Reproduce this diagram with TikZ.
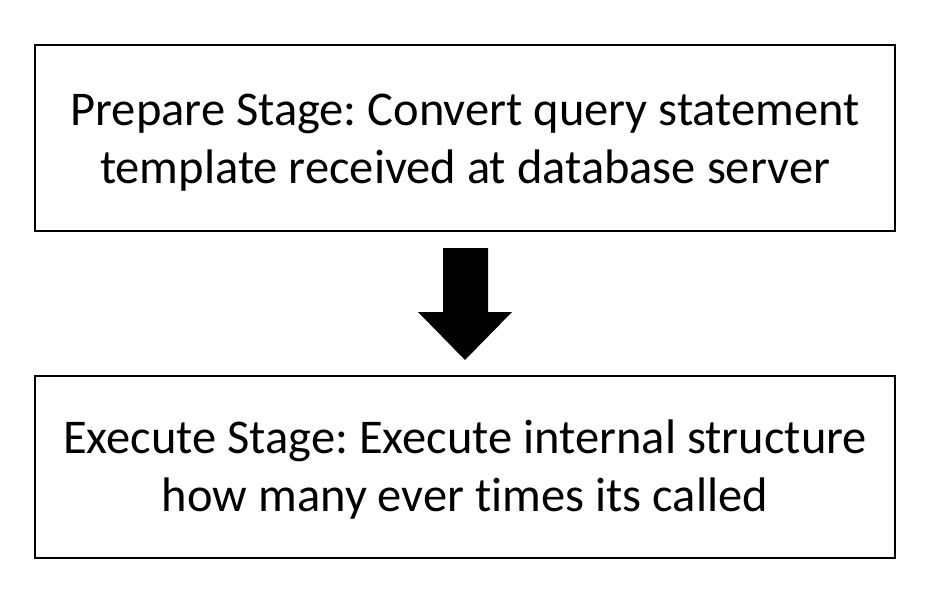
\documentclass[tikz,border=0pt]{standalone}
\usepackage{fontspec}
\setmainfont{Carlito}[Ligatures=NoCommon]
\begin{document}
\begin{tikzpicture}[x=1pt,y=-1pt,
  stagebox/.style={draw=black,line width=1.6pt,minimum width=860pt,inner sep=0pt},
  stagetext/.style={align=center,font=\fontsize{48.5}{58}\selectfont\frenchspacing,inner sep=0pt}]
\useasboundingbox (0,0) rectangle (934,596);
\node[stagebox,minimum height=186pt] (prep) at (465,138) {};
\node[stagetext] (preptext) at ([yshift=-5pt]prep.center) {Prepare Stage: Convert query statement\\template received at database server};
\node[stagebox,minimum height=182pt] (exec) at (465,467) {};
\node[stagetext] (exectext) at ([yshift=-3pt]exec.center) {Execute Stage: Execute internal structure\\how many ever times its called};
\fill[black] (443,248) -- (488,248) -- (488,312) -- (512,312) -- (465,360) -- (418,312) -- (443,312) -- cycle;
\end{tikzpicture}
\end{document}
